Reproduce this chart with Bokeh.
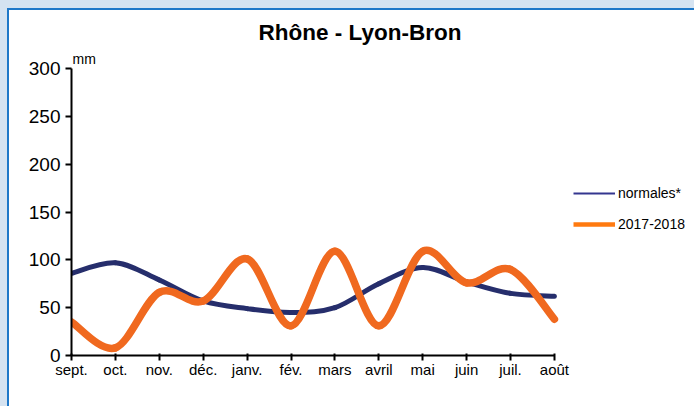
from bokeh.plotting import figure
from bokeh.layouts import column
from bokeh.models import (Range1d, FixedTicker, Legend, LegendItem, Label, ColumnDataSource,
                          CDSView, IndexFilter)
from bokeh.embed import file_html
from bokeh.resources import INLINE

months = ["sept.", "oct.", "nov.", "déc.", "janv.", "fév.", "mars", "avril", "mai", "juin", "juil.", "août"]
normales = [86, 97, 79, 57, 49, 45, 50, 75, 92, 77, 65, 62]
annee = [35, 8, 66, 57, 101, 31, 109, 31, 109, 76, 90, 38]
y_ticks = [0, 50, 100, 150, 200, 250, 300]

NAVY = "#262e6c"
ORANGE = "#f0691f"
FONT = "Liberation Sans"

fig = figure(width=687, height=398, output_backend="svg", toolbar_location=None,
             x_range=Range1d(0, 14.1), y_range=Range1d(0, 320),
             min_border_left=62, min_border_top=39, min_border_bottom=53, min_border_right=6)
fig.styles = {"border-top": "2px solid #1f78c8", "border-left": "2px solid #1f78c8",
              "background-color": "white"}
fig.outline_line_color = None
fig.grid.visible = False
fig.background_fill_color = "white"
fig.border_fill_color = "white"

fig.title.text = "Rhône - Lyon-Bron"
fig.title.text_font = FONT
fig.title.text_font_size = "22.5px"
fig.title.text_font_style = "bold"
fig.title.text_color = "black"
fig.title.align = "left"
fig.title.offset = 187
fig.title.standoff = 10

xs = list(range(len(months)))

fig.xaxis.ticker = FixedTicker(ticks=xs)
fig.xaxis.bounds = (0, len(months) - 1)
fig.xaxis.major_label_overrides = {i: m for i, m in enumerate(months)}
fig.xaxis.major_label_text_font = FONT
fig.xaxis.major_label_text_font_size = "15px"
fig.xaxis.major_tick_out = 5
fig.xaxis.major_tick_in = 2
fig.xaxis.major_label_standoff = 0
fig.yaxis.ticker = FixedTicker(ticks=y_ticks)
fig.yaxis.bounds = (0, 300)
fig.yaxis.major_label_text_font = FONT
fig.yaxis.major_label_text_font_size = "19px"
fig.yaxis.major_tick_out = 6
fig.yaxis.major_tick_in = 0
fig.yaxis.major_label_standoff = 5
for ax in (fig.xaxis, fig.yaxis):
    ax.axis_line_width = 2
    ax.axis_line_color = "black"
    ax.major_tick_line_width = 2
    ax.major_tick_line_color = "black"
    ax.minor_tick_line_color = None
    ax.major_label_text_color = "black"


def smooth(xv, yv):
    n = len(xv)
    x0, y0, x1, y1, cx0, cy0, cx1, cy1 = [], [], [], [], [], [], [], []
    for i in range(n - 1):
        a = i - 1 if i > 0 else i
        b = i + 2 if i + 2 < n else i + 1
        x0.append(xv[i]); y0.append(yv[i])
        x1.append(xv[i + 1]); y1.append(yv[i + 1])
        cx0.append(xv[i] + (xv[i + 1] - xv[a]) / 6)
        cy0.append(yv[i] + (yv[i + 1] - yv[a]) / 6)
        cx1.append(xv[i + 1] - (xv[b] - xv[i]) / 6)
        cy1.append(yv[i + 1] - (yv[b] - yv[i]) / 6)
    return ColumnDataSource(dict(x0=x0, y0=y0, x1=x1, y1=y1, cx0=cx0, cy0=cy0, cx1=cx1, cy1=cy1))


fig.bezier(x0="x0", y0="y0", x1="x1", y1="y1", cx0="cx0", cy0="cy0", cx1="cx1", cy1="cy1",
           source=smooth(xs, normales), line_color=NAVY, line_width=5, line_cap="round")
fig.bezier(x0="x0", y0="y0", x1="x1", y1="y1", cx0="cx0", cy0="cy0", cx1="cx1", cy1="cy1",
           source=smooth(xs, annee), line_color=ORANGE, line_width=7.5, line_cap="round")

# legend-only renderers: a single point each (draws no visible line), used for the legend swatch
leg_src = ColumnDataSource(dict(x=xs, n=normales, a=annee))
leg_n = fig.line(x="x", y="n", source=leg_src, view=CDSView(filter=IndexFilter([0])),
                 line_color="#34368f", line_width=2)
leg_a = fig.line(x="x", y="a", source=leg_src, view=CDSView(filter=IndexFilter([0])),
                 line_color="#ff7a10", line_width=4.5)

legend = Legend(items=[LegendItem(label="normales*", renderers=[leg_n]),
                       LegendItem(label="2017-2018", renderers=[leg_a])],
                location=(502, 121), orientation="vertical",
                glyph_width=42, glyph_height=20, label_height=20, label_standoff=3,
                spacing=11, padding=0, margin=0,
                label_text_font=FONT, label_text_font_size="14px", label_text_color="black",
                background_fill_alpha=0, border_line_color=None)
fig.add_layout(legend)

fig.add_layout(Label(x=0, y=300, text="mm", x_offset=1, y_offset=10, text_font=FONT,
                     text_font_size="14px", text_baseline="alphabetic", text_align="left",
                     text_color="black"))

p = column(fig, styles={"background-color": "#d5e3f1", "padding-top": "8px", "padding-left": "7px"})

open("out.html", "w").write(file_html(p, INLINE))
